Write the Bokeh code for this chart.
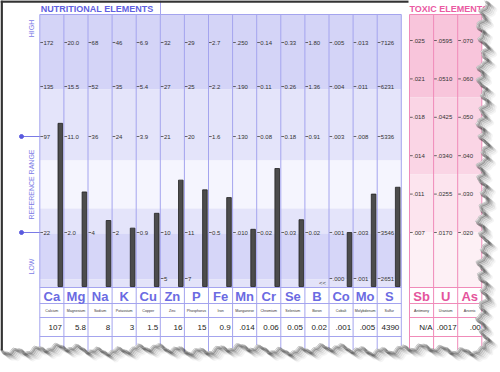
import numpy as np
from bokeh.plotting import figure
from bokeh.models import Range1d
from bokeh.embed import file_html
from bokeh.resources import INLINE
from bokeh.core.properties import value

# ---------------- data ----------------
elements = ["Ca", "Mg", "Na", "K", "Cu", "Zn", "P", "Fe", "Mn", "Cr", "Se", "B", "Co", "Mo", "S"]
element_names = ["Calcium", "Magnesium", "Sodium", "Potassium", "Copper", "Zinc", "Phosphorus", "Iron",
                 "Manganese", "Chromium", "Selenium", "Boron", "Cobalt", "Molybdenum", "Sulfur"]
results = [107, 5.8, 8, 3, 1.5, 16, 15, 0.9, 0.014, 0.06, 0.05, 0.02, 0.001, 0.005, 4390]
result_labels = ["107", "5.8", "8", "3", "1.5", "16", "15", "0.9", ".014", "0.06", "0.05", "0.02", ".001", ".005", "4390"]
below_range = [False, False, False, False, False, False, False, False, False, False, False, True, False, False, False]

tick_high = ["172", "20.0", "68", "46", "6.9", "32", "29", "2.7", ".250", "0.14", "0.33", "1.80", ".005", ".013", "7126"]
tick_upper = ["135", "15.5", "52", "35", "5.4", "27", "25", "2.2", ".190", "0.11", "0.26", "1.36", ".004", ".011", "6231"]
tick_ref_high = ["97", "11.0", "36", "24", "3.9", "21", "20", "1.6", ".130", "0.08", "0.18", "0.91", ".003", ".008", "5336"]
tick_ref_low = ["22", "2.0", "4", "2", "0.9", "10", "11", "0.5", ".010", "0.02", "0.03", "0.02", ".001", ".003", "3546"]
tick_low = ["", "", "", "", "", "5", "7", "", "", "", "", "", ".000", ".001", "2651"]

toxic_elements = ["Sb", "U", "As"]
toxic_names = ["Antimony", "Uranium", "Arsenic"]
toxic_result_labels = ["N/A", ".0017", ".00"]
toxic_ticks = [
    [".025", ".021", ".018", ".014", ".011", ".007"],
    [".0595", ".0510", ".0425", ".0340", ".0255", ".0170"],
    [".070", ".060", ".050", ".040", ".030", ".020"],
]

# ---------------- layout (pixel space) ----------------
X0, COLW = 39.3, 24.1
NCOL = len(elements)
XR = X0 + COLW * NCOL
TX0 = 409.0
TXR = TX0 + COLW * len(toxic_elements)
TOP, BOT = 14.0, 287.0
ROW_LINES = [287, 303, 317, 336]
LEVEL_Y = [232, 136, 86, 42]      # y of ref-low, ref-high, upper, high ticks
LOW_Y = 278
TOX_Y = list(np.linspace(40, 232, 6))

FONT = value("Liberation Sans")
BLUE = "#6b6be2"
BLUE_LINE = "#a4a4ee"
PINK = "#e4549c"
PINK_LINE = "#f08bb9"

p = figure(width=500, height=372, x_range=Range1d(0, 500), y_range=Range1d(372, 0),
           output_backend="svg", toolbar_location=None, min_border=0)
p.axis.visible = False
p.grid.visible = False
p.outline_line_color = None
p.background_fill_color = "white"
p.border_fill_color = "white"

# ---------- background bands ----------
nb = [(TOP, 89, "#d4d4f7"), (89, 160, "#e4e4fa"), (160, 208, "#f5f5fe"),
      (208, 233, "#e4e4fa"), (233, 279, "#d6d6f8"), (279, BOT, "#e3e3f9")]
p.quad(left=[X0] * len(nb), right=[XR] * len(nb), top=[b[0] for b in nb], bottom=[b[1] for b in nb],
       fill_color=[b[2] for b in nb], line_color=None)
tb = [(TOP, 97, "#f8c5db"), (97, 174, "#fad5e5"), (174, 232, "#fce4ee"), (232, BOT, "#fdf0f5")]
p.quad(left=[TX0] * len(tb), right=[TXR] * len(tb), top=[b[0] for b in tb], bottom=[b[1] for b in tb],
       fill_color=[b[2] for b in tb], line_color=None)

# ---------- grid lines ----------
col_edges = [X0 + COLW * i for i in range(NCOL + 1)]
p.segment(x0=col_edges, x1=col_edges, y0=[TOP] * len(col_edges), y1=[360] * len(col_edges),
          line_color=BLUE_LINE, line_width=1)
p.segment(x0=[X0] * 5, x1=[XR] * 5, y0=[TOP] + ROW_LINES, y1=[TOP] + ROW_LINES,
          line_color=BLUE_LINE, line_width=1)
p.segment(x0=[160], x1=[160], y0=[0], y1=[TOP], line_color=BLUE_LINE, line_width=1)
tcol_edges = [TX0 + COLW * i for i in range(len(toxic_elements) + 1)]
p.segment(x0=tcol_edges, x1=tcol_edges, y0=[TOP] * len(tcol_edges), y1=[360] * len(tcol_edges),
          line_color=PINK_LINE, line_width=1)
p.segment(x0=[TX0] * 5, x1=[TXR] * 5, y0=[TOP] + ROW_LINES, y1=[TOP] + ROW_LINES,
          line_color=PINK_LINE, line_width=1)

# ---------- tick marks & labels ----------
tx, ty, tt = [], [], []
for i in range(NCOL):
    left = X0 + COLW * i
    for lab, y in zip([tick_ref_low[i], tick_ref_high[i], tick_upper[i], tick_high[i]], LEVEL_Y):
        tx.append(left); ty.append(y); tt.append(lab)
    if tick_low[i]:
        tx.append(left); ty.append(LOW_Y); tt.append(tick_low[i])
for k, labs in enumerate(toxic_ticks):
    left = TX0 + COLW * k
    for lab, y in zip(labs, TOX_Y):
        tx.append(left); ty.append(y); tt.append(lab)
p.segment(x0=[x + 0.5 for x in tx], x1=[x + 3.2 for x in tx], y0=ty, y1=ty, line_color="#444444", line_width=0.8)
p.text(x=[x + 3.6 for x in tx], y=ty, text=tt, text_font=FONT, text_font_size=value("6px"),
       text_color="#333333", text_align="left", text_baseline="middle")

# below-range marker
bx = [X0 + COLW * i + 14 for i in range(NCOL) if below_range[i]]
p.text(x=bx, y=[282] * len(bx), text=["<<"] * len(bx), text_font=FONT, text_font_size=value("6px"),
       text_color="#444444", text_align="left", text_baseline="middle")

# ---------- bars ----------
bar_x, bar_top = [], []
for i in range(NCOL):
    if below_range[i]:
        continue
    ticks = [float(t) for t in (tick_ref_low[i], tick_ref_high[i], tick_upper[i], tick_high[i])]
    bar_x.append(X0 + COLW * i + 20.5)
    bar_top.append(float(np.interp(results[i], ticks, LEVEL_Y)))
p.vbar(x=bar_x, top=bar_top, bottom=BOT - 1, width=4.6, fill_color="#4c4c4c", line_color="#222222", line_width=0.8)

# ---------- element rows ----------
cx = [X0 + COLW * (i + 0.5) for i in range(NCOL)]
p.text(x=cx, y=[296] * NCOL, text=elements, text_font=FONT, text_font_size=value("13px"), text_font_style="bold",
       text_color=BLUE, text_align="center", text_baseline="middle")
p.text(x=cx, y=[310.5] * NCOL, text=element_names, text_font=FONT, text_font_size=value("3.6px"),
       text_color="#333333", text_align="center", text_baseline="middle")
p.text(x=[X0 + COLW * (i + 1) - 2 for i in range(NCOL)], y=[327] * NCOL, text=result_labels, text_font=FONT,
       text_font_size=value("8px"), text_color="#222222", text_align="right", text_baseline="middle")

tcx = [TX0 + COLW * (k + 0.5) for k in range(len(toxic_elements))]
p.text(x=tcx, y=[296] * 3, text=toxic_elements, text_font=FONT, text_font_size=value("13px"), text_font_style="bold",
       text_color=PINK, text_align="center", text_baseline="middle")
p.text(x=tcx, y=[310.5] * 3, text=toxic_names, text_font=FONT, text_font_size=value("3.6px"),
       text_color="#333333", text_align="center", text_baseline="middle")
p.text(x=[TX0 + COLW * (k + 1) - 1 for k in range(3)], y=[327] * 3, text=toxic_result_labels, text_font=FONT,
       text_font_size=value("8px"), text_color="#222222", text_align="right", text_baseline="middle")

# ---------- left annotations ----------
p.segment(x0=[21, 21], x1=[X0, X0], y0=[LEVEL_Y[1], LEVEL_Y[0]], y1=[LEVEL_Y[1], LEVEL_Y[0]],
          line_color="#7a7ae6", line_width=1)
p.scatter(x=[21, 21], y=[LEVEL_Y[1], LEVEL_Y[0]], size=4, fill_color="#5a5ade", line_color="#5a5ade")
p.text(x=[31, 31, 31], y=[28, 184, 266], text=["HIGH", "REFERENCE RANGE", "LOW"], angle=np.pi / 2,
       text_font=FONT, text_font_size=value("7px"), text_color="#7c7ce6", text_align="center",
       text_baseline="middle")

# ---------- titles ----------
p.text(x=[X0 + 1], y=[8.5], text=["NUTRITIONAL  ELEMENTS"], text_font=FONT, text_font_size=value("9px"),
       text_font_style="bold", text_color="#6060e0", text_align="left", text_baseline="middle")
p.text(x=[TX0], y=[8.5], text=["TOXIC  ELEMENTS"], text_font=FONT, text_font_size=value("9px"),
       text_font_style="bold", text_color="#ea5aa2", text_align="left", text_baseline="middle")

# ---------- paper border + torn edge (decoration) ----------
ys_r = np.arange(0, 345, 1.5)
xs_r = 481 + 3 * np.sin(ys_r * 0.45) + 2.5 * np.sin(ys_r * 0.13 + 1.3) + 1.2 * np.sin(ys_r * 1.1)
xs_b = np.arange(xs_r[-1], -1, -1.5)
ys_b = 348 + 2.5 * np.sin(xs_b * 0.31) + 2.2 * np.sin(xs_b * 0.07 + 0.5) + 1.0 * np.sin(xs_b * 0.9)
path_x = np.concatenate([xs_r, xs_b])
path_y = np.concatenate([ys_r, ys_b])
poly_x = [500] + list(path_x) + [0, 500]
poly_y = [0] + list(path_y) + [372, 372]
p.patch(x=poly_x, y=poly_y, fill_color="white", line_color=None)
for k, a in [(9, 0.05), (7.5, 0.08), (6, 0.12), (4.5, 0.18), (3, 0.26), (1.6, 0.36)]:
    p.line(x=path_x + k, y=path_y + k * 0.8, line_color="#333333", line_alpha=a, line_width=2.6)
p.line(x=path_x, y=path_y, line_color="#aaaaaa", line_width=0.6)
# dark left/top paper edges
p.segment(x0=[1.2, 0], x1=[1.2, 408], y0=[0, 1], y1=[350, 1], line_color="#333333", line_width=2.4)

open("out.html", "w").write(file_html(p, INLINE))
